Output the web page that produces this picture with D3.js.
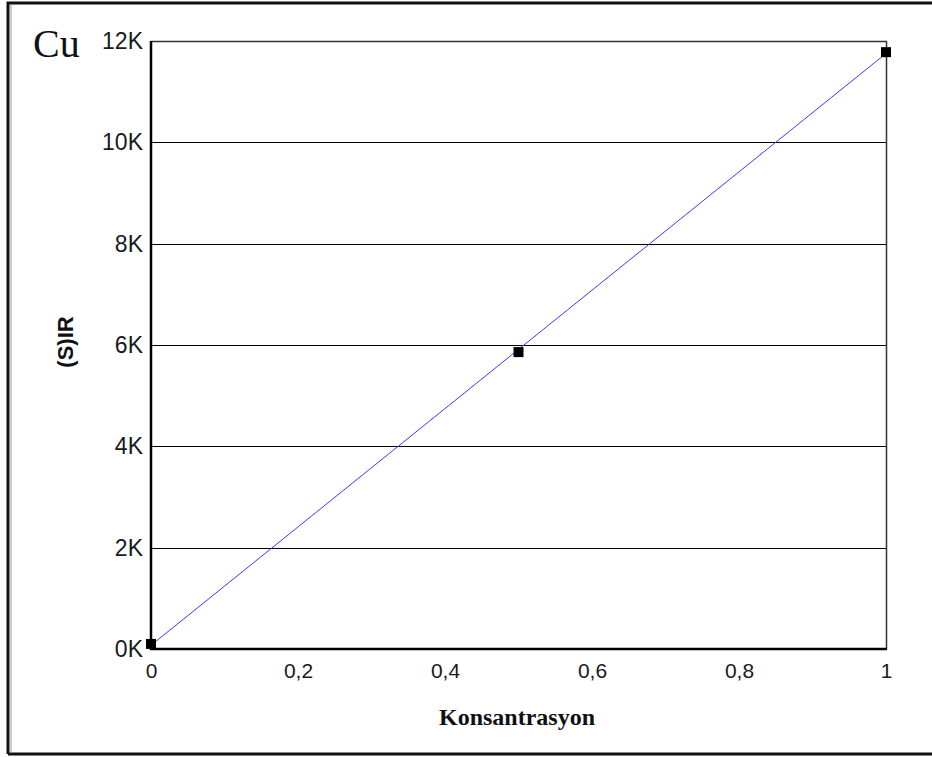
<!DOCTYPE html>
<html>
<head>
<meta charset="utf-8">
<script src="https://cdn.jsdelivr.net/npm/d3@7"></script>
<style>
  html, body { margin: 0; padding: 0; background: #fff; }
  svg { display: block; }
</style>
</head>
<body>
<svg id="chart" width="932" height="757"></svg>
<script>
// Calibration data for Cu
const concentrations = [0, 0.5, 1];
const intensities = [100, 5860, 11780];
const xTicks = [0, 0.2, 0.4, 0.6, 0.8, 1];
const yTicks = [0, 2000, 4000, 6000, 8000, 10000, 12000];

const svg = d3.select("#chart");
const W = 932, H = 757;
const margin = { left: 151, right: 46, top: 41, bottom: 108 };
const plotW = W - margin.left - margin.right;
const plotH = H - margin.top - margin.bottom;

// Outer frame
svg.append("path")
  .attr("d", `M8,${H - 3} L8,3 L${W},3`)
  .attr("fill", "none").attr("stroke", "#111").attr("stroke-width", 3);
svg.append("line")
  .attr("x1", 8).attr("x2", W).attr("y1", H - 3).attr("y2", H - 3)
  .attr("stroke", "#111").attr("stroke-width", 3);
svg.append("line")
  .attr("x1", 11).attr("x2", 11).attr("y1", 5).attr("y2", H - 5)
  .attr("stroke", "#999").attr("stroke-width", 1);

const x = d3.scaleLinear().domain([0, 1]).range([0, plotW]);
const y = d3.scaleLinear().domain([0, 12000]).range([plotH, 0]);

const g = svg.append("g").attr("transform", `translate(${margin.left},${margin.top})`);

// Horizontal grid lines
g.append("g").selectAll("line")
  .data(yTicks.filter(d => d > 0 && d < 12000))
  .join("line")
  .attr("x1", 0).attr("x2", plotW)
  .attr("y1", d => Math.round(y(d)) + 0.5).attr("y2", d => Math.round(y(d)) + 0.5)
  .attr("stroke", "#000").attr("stroke-width", 1);

// Top and right frame
g.append("path")
  .attr("d", `M0,0.5 L${plotW + 0.5},0.5 L${plotW + 0.5},${plotH}`)
  .attr("fill", "none").attr("stroke", "#333").attr("stroke-width", 1.5);

// Axes
const fmtX = d => d3.format("~g")(d).replace(".", ",");
const xAxis = d3.axisBottom(x).tickValues(xTicks).tickFormat(fmtX).tickSize(0).tickPadding(14);
const yAxis = d3.axisLeft(y).tickValues(yTicks).tickFormat(d => (d / 1000) + "K").tickSize(0).tickPadding(8);

const gx = g.append("g").attr("transform", `translate(0,${plotH})`).call(xAxis);
const gy = g.append("g").call(yAxis);
[[gx, 21], [gy, 23]].forEach(([a, size]) => {
  a.select(".domain").remove();
  a.selectAll("text")
    .attr("font-family", "'Liberation Sans', Arial, sans-serif")
    .attr("font-size", size).attr("fill", "#1a1a1a");
});

g.append("line").attr("x1", 0).attr("x2", 0).attr("y1", 0).attr("y2", plotH + 1)
  .attr("stroke", "#000").attr("stroke-width", 2.5);
g.append("line").attr("x1", -1).attr("x2", plotW + 1).attr("y1", plotH).attr("y2", plotH)
  .attr("stroke", "#000").attr("stroke-width", 2.5);

// Least-squares trend line through the measured points
const mx = d3.mean(concentrations), my = d3.mean(intensities);
const slope = d3.sum(concentrations, (c, i) => (c - mx) * (intensities[i] - my)) /
  d3.sum(concentrations, c => (c - mx) ** 2);
const intercept = my - slope * mx;
g.append("line")
  .attr("x1", x(0)).attr("y1", y(intercept))
  .attr("x2", x(1)).attr("y2", y(intercept + slope))
  .attr("stroke", "#3a3aff").attr("stroke-width", 1);

// Markers
g.selectAll("rect.pt")
  .data(concentrations.map((c, i) => [c, intensities[i]]))
  .join("rect").attr("class", "pt")
  .attr("x", d => x(d[0]) - 5).attr("y", d => y(d[1]) - 5)
  .attr("width", 10).attr("height", 10).attr("fill", "#000");

// Labels
svg.append("text").text("Cu")
  .attr("x", 33).attr("y", 57)
  .attr("font-family", "'Liberation Serif', 'Times New Roman', serif")
  .attr("font-size", 40).attr("fill", "#111");

svg.append("text").text("(S)IR")
  .attr("transform", "translate(73,342) rotate(-90)")
  .attr("text-anchor", "middle")
  .attr("font-family", "'Liberation Sans', Arial, sans-serif")
  .attr("font-weight", "bold").attr("font-size", 22).attr("fill", "#111");

svg.append("text").text("Konsantrasyon")
  .attr("x", 517).attr("y", 725)
  .attr("text-anchor", "middle")
  .attr("font-family", "'Liberation Serif', 'Times New Roman', serif")
  .attr("font-weight", "bold").attr("font-size", 24).attr("fill", "#111");
</script>
</body>
</html>
